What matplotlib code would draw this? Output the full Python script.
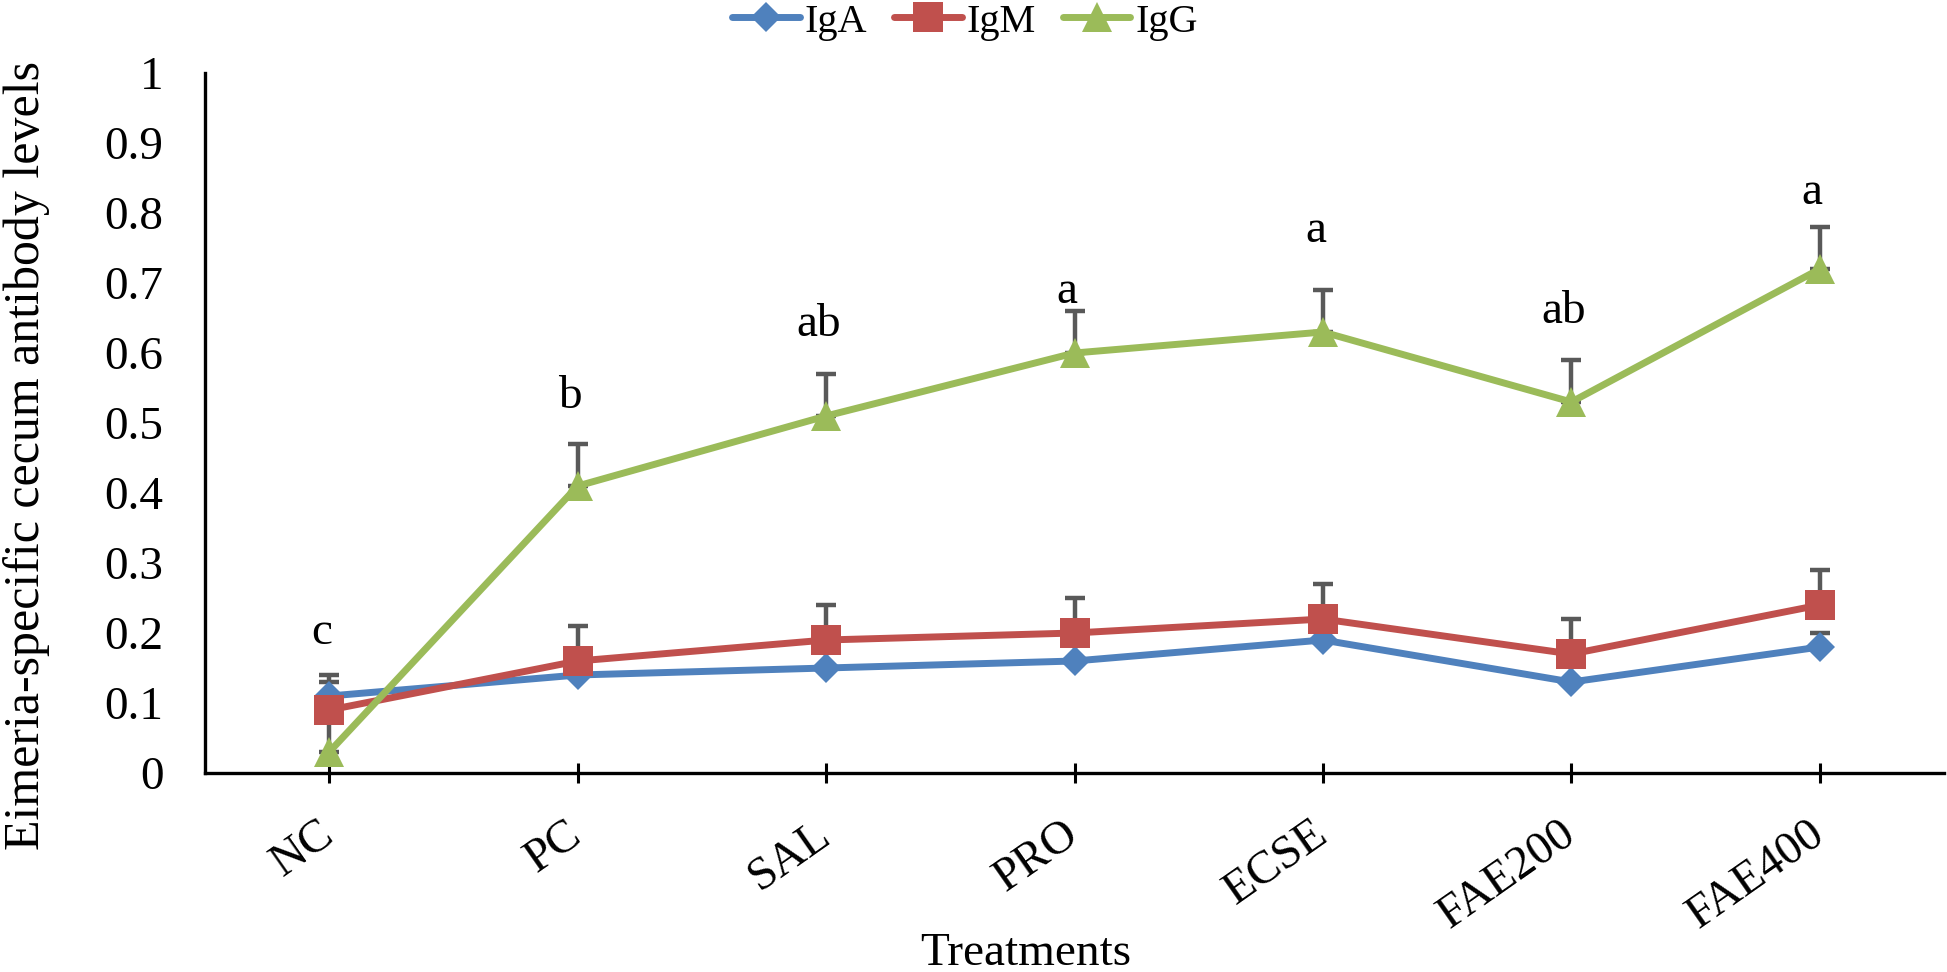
import matplotlib
matplotlib.use("Agg")
import matplotlib.pyplot as plt
import matplotlib.transforms as mtransforms

plt.rcParams['font.family'] = ['Liberation Serif', 'DejaVu Serif']

treatments = ["NC", "PC", "SAL", "PRO", "ECSE", "FAE200", "FAE400"]
iga = [0.11, 0.14, 0.15, 0.16, 0.19, 0.13, 0.18]
igm = [0.09, 0.16, 0.19, 0.20, 0.22, 0.17, 0.24]
igg = [0.03, 0.41, 0.51, 0.60, 0.63, 0.53, 0.72]
iga_err = [0.03, 0.03, 0.03, 0.03, 0.03, 0.03, 0.02]
igm_err = [0.04, 0.05, 0.05, 0.05, 0.05, 0.05, 0.05]
igg_err = [0.06, 0.06, 0.06, 0.06, 0.06, 0.06, 0.06]
letters = ["c", "b", "ab", "a", "a", "ab", "a"]
letter_y = [0.184, 0.521, 0.624, 0.671, 0.759, 0.643, 0.813]

W, H = 1947, 972
fig = plt.figure(figsize=(W / 100, H / 100), dpi=100)
ax = fig.add_axes([205 / W, 1 - 773 / H, (1944 - 205) / W, (773 - 73) / H])

x = list(range(len(treatments)))
series = [
    ("IgA", iga, iga_err, "#4F81BD", "D", 15.3),
    ("IgM", igm, igm_err, "#C0504D", "s", 21.5),
    ("IgG", igg, igg_err, "#9BBB59", "^", 21.5),
]
handles = []
for name, vals, errs, col, mk, ms in series:
    ax.errorbar(x, vals, yerr=[[0] * len(errs), errs], fmt="none",
                ecolor="#595959", elinewidth=3.2, capsize=7.5, capthick=3.2,
                zorder=2)
    h, = ax.plot(x, vals, color=col, lw=5, marker=mk, markersize=ms,
                 markeredgewidth=0, label=name, zorder=3,
                 solid_capstyle="round")
    handles.append(h)

for xi, lab, ly in zip(x, letters, letter_y):
    ax.text(xi - 0.03, ly, lab, ha="center", va="baseline", fontsize=34)

ax.set_xlim(-0.5, 6.5)
ax.set_ylim(0, 1)
ax.set_yticks([i / 10 for i in range(11)])
ax.set_yticklabels(["0"] + [f"0.{i}" for i in range(1, 10)] + ["1"])
ax.set_xticks(x)
ax.set_xticklabels(treatments, rotation=35, ha="right", rotation_mode="anchor")
ax.tick_params(axis="y", length=0, pad=30, labelsize=34)
ax.tick_params(axis="x", direction="inout", length=15, width=2.2, pad=14,
               labelsize=34)
offset = mtransforms.ScaledTranslation(-12 / 100, -10 / 100, fig.dpi_scale_trans)
for lbl in ax.get_xticklabels():
    lbl.set_transform(lbl.get_transform() + offset)
for s in ["top", "right"]:
    ax.spines[s].set_visible(False)
for s in ["left", "bottom"]:
    ax.spines[s].set_linewidth(2.4)
    ax.spines[s].set_color("black")

fig.legend(handles=handles, loc="center", bbox_to_anchor=(965 / W, 1 - 22 / H),
           ncol=3, frameon=False, fontsize=29, handlelength=1.67,
           handletextpad=0.12, columnspacing=0.68, borderpad=0)

fig.text(27 / W, 1 - 456 / H, "Eimeria-specific cecum antibody levels",
         rotation=90, ha="center", va="center", fontsize=36)
fig.text(1026 / W, 1 - 965 / H, "Treatments", ha="center", va="baseline",
         fontsize=34)

fig.savefig("out.png", dpi=100)
